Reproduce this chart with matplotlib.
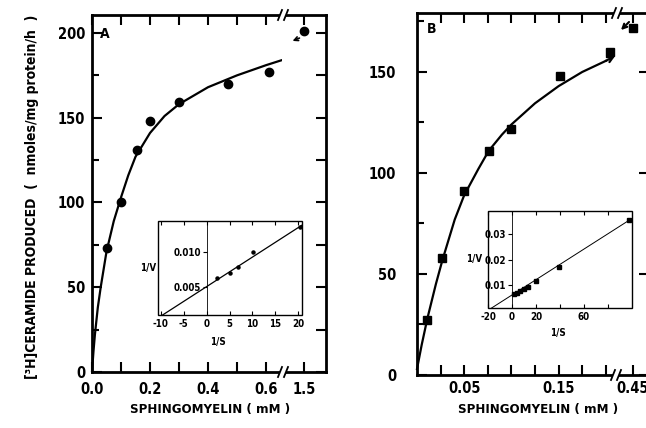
import matplotlib
matplotlib.use('Agg')
import matplotlib.pyplot as plt
from matplotlib.patches import Rectangle, FancyArrowPatch
from matplotlib.lines import Line2D

plt.rcParams['font.family'] = ['DejaVu Sans']
plt.rcParams['font.weight'] = 'bold'
plt.rcParams['font.stretch'] = 'condensed'

# ---------------- data ----------------
# Panel A (circles)
a_x = [0.05, 0.10, 0.155, 0.20, 0.30, 0.47, 0.61]
a_y = [73, 100, 131, 148, 159, 170, 177]
a_far_x = [1.5]
a_far_y = [201]
a_curve_x = [0, 0.005, 0.01, 0.02, 0.03, 0.05, 0.075, 0.1, 0.125, 0.15, 0.2, 0.25, 0.3, 0.4, 0.5, 0.6, 0.655]
a_curve_y = [0, 12, 22, 38, 50, 71, 89, 103, 116, 127, 141, 151, 158, 168, 175, 181, 184]

# Panel B (squares)
b_x = [0.011, 0.027, 0.05, 0.076, 0.10, 0.152, 0.204]
b_y = [27, 58, 91, 111, 122, 148, 160]
b_far_x = [0.45]
b_far_y = [172]
b_curve_x = [0, 0.005, 0.011, 0.02, 0.027, 0.04, 0.05, 0.065, 0.076, 0.09, 0.1, 0.125, 0.15, 0.175, 0.2, 0.21]
b_curve_y = [3, 15, 28, 45, 57, 77, 89, 102, 111, 119, 124, 134.5, 143, 150, 155.5, 158]

# Inset A (Lineweaver-Burk)
ia_x = [2.2, 5.0, 6.8, 10.2, 20.4]
ia_y = [0.0062, 0.0070, 0.0079, 0.0100, 0.0136]
ia_line_x = [-9.6, 20.8]
ia_line_y = [0.0009, 0.0139]

# Inset B
ib_x = [1.9, 4.5, 6.8, 9.8, 13.3, 20.0, 39.2, 97.9]
ib_y = [0.0064, 0.0068, 0.0075, 0.0083, 0.0092, 0.0115, 0.0170, 0.0356]
ib_line_x = [-17, 99.5]
ib_line_y = [0.0008, 0.0362]

# tick labels
a_xtick_pos = [0.0, 0.1, 0.2, 0.3, 0.4, 0.5, 0.6]
a_xtick_lab = ['0.0', '', '0.2', '', '0.4', '', '0.6']
a_ytick_pos = [0, 50, 100, 150, 200]
a_ytick_lab = ['0', '50', '100', '150', '200']
a_far_lab = ['1.5']
b_xtick_pos = [0.025, 0.05, 0.075, 0.1, 0.125, 0.15, 0.175, 0.2]
b_xtick_lab = ['', '0.05', '', '', '', '0.15', '', '']
b_ytick_pos = [0, 50, 100, 150]
b_ytick_lab = ['0', '50', '100', '150']
b_far_lab = ['0.45']
ia_xtick_pos = [-10, -5, 0, 5, 10, 15, 20]
ia_xtick_lab = ['-10', '-5', '0', '5', '10', '15', '20']
ia_ytick_pos = [0.005, 0.010]
ia_ytick_lab = ['0.005', '0.010']
ib_xtick_pos = [-20, 0, 20, 40, 60, 80]
ib_xtick_lab = ['-20', '0', '20', '', '60', '']
ib_ytick_pos = [0.01, 0.02, 0.03]
ib_ytick_lab = ['0.01', '0.02', '0.03']

# ---------------- figure ----------------
W, H = 646, 428
fig = plt.figure(figsize=(W / 100, H / 100), dpi=100)


def axpx(l, r, t, b):
    return fig.add_axes([l / W, 1 - b / H, (r - l) / W, (b - t) / H])


def px(x, y):
    return (x / W, 1 - y / H)


SPW = 2.0
TFS = 10.5
IFS = 7


def style_main(ax):
    for s in ax.spines.values():
        s.set_linewidth(SPW)
    ax.tick_params(which='both', direction='in', width=1.5, labelsize=TFS)
    ax.tick_params(which='major', length=7)
    ax.tick_params(which='minor', length=5)


# ---- Panel A ----
axA = axpx(92, 282, 15, 372)
axA2 = axpx(282, 326, 15, 372)
for ax in (axA, axA2):
    style_main(ax)
    ax.set_ylim(0, 210.6)
axA.set_xlim(0, 0.655)
axA2.set_xlim(1.4, 1.6)
axA.spines['right'].set_visible(False)
axA2.spines['left'].set_visible(False)
axA.set_xticks(a_xtick_pos, a_xtick_lab)
axA.set_yticks(a_ytick_pos, a_ytick_lab)
axA.set_yticks([25, 75, 125, 175], minor=True)
axA.tick_params(top=True, right=False, which='both', pad=5)
axA.tick_params(axis='x', pad=7)
axA2.set_xticks(a_far_x, a_far_lab)
axA2.set_yticks([0, 25, 50, 75, 100, 125, 150, 175, 200])
axA2.tick_params(left=False, labelleft=False, right=True, top=True, pad=7)

axA.plot(a_curve_x, a_curve_y, color='black', lw=1.6, solid_capstyle='round', clip_on=False)
axA.plot(a_x, a_y, 'o', color='black', ms=6)
axA2.plot(a_far_x, a_far_y, 'o', color='black', ms=6, clip_on=False)
axA.text(0.04, 0.965, 'A', transform=axA.transAxes, fontsize=10, ha='left', va='top')

# ---- Panel B ----
axB = axpx(417, 616, 13, 375)
axB2 = axpx(616, 649, 13, 375)
for ax in (axB, axB2):
    style_main(ax)
    ax.set_ylim(0, 179.2)
axB.set_xlim(0, 0.2108)
axB2.set_xlim(0.44, 0.46)
axB.spines['right'].set_visible(False)
axB2.spines['left'].set_visible(False)
axB.set_xticks(b_xtick_pos, b_xtick_lab)
axB.set_yticks(b_ytick_pos, b_ytick_lab)
axB.set_yticks([25, 75, 125, 175], minor=True)
axB.tick_params(top=True, right=False, which='both')
axB.tick_params(axis='y', pad=15)
axB.tick_params(axis='x', pad=4)
axB2.set_xticks(b_far_x, b_far_lab)
axB2.set_yticks([0, 50, 100, 150])
axB2.tick_params(left=False, labelleft=False, right=True, top=True, pad=4)

axB.plot(b_curve_x[:-1], b_curve_y[:-1], color='black', lw=1.6, clip_on=False)
axB.annotate('', xy=(b_curve_x[-1], b_curve_y[-1]), xytext=(b_curve_x[-2], b_curve_y[-2]),
             arrowprops=dict(arrowstyle='->', lw=1.6, color='black', shrinkA=0, shrinkB=0,
                             mutation_scale=10), annotation_clip=False)
axB.plot(b_x, b_y, 's', color='black', ms=6)
axB2.plot(b_far_x, b_far_y, 's', color='black', ms=6, clip_on=False)
axB.text(0.05, 0.975, 'B', transform=axB.transAxes, fontsize=10, ha='left', va='top')


# ---- axis break marks and arrows (decoration, figure pixels) ----
def brk(xp, yp):
    fig.add_artist(Rectangle(px(xp - 3, yp + 2), 6 / W, 4 / H, transform=fig.transFigure,
                             facecolor='white', edgecolor='none', zorder=10))
    for dx in (-3, 3):
        fig.add_artist(Line2D([(xp + dx - 2) / W, (xp + dx + 2) / W],
                              [1 - (yp + 5) / H, 1 - (yp - 5) / H],
                              transform=fig.transFigure, color='black', lw=1.3, zorder=11))


brk(283, 372)
brk(283, 15)
brk(616, 375)
brk(617, 13)

fig.add_artist(FancyArrowPatch(px(302, 37), px(290, 42), transform=fig.transFigure,
                               arrowstyle='->', mutation_scale=7, lw=1.2, color='black'))
fig.add_artist(FancyArrowPatch(px(631, 20), px(619, 32), transform=fig.transFigure,
                               arrowstyle='->', mutation_scale=8, lw=1.5, color='black'))

# ---- Inset A ----
iA = axpx(158, 302, 221, 315)
iA.set_xlim(-10.6, 20.8)
iA.set_ylim(0.0009, 0.0145)
for s in iA.spines.values():
    s.set_visible(False)
iA.add_patch(Rectangle((0, 0), 1, 1, transform=iA.transAxes, fill=False, lw=1.0, clip_on=False))
iA.spines['left'].set_visible(True)
iA.spines['left'].set_position(('data', 0))
iA.spines['left'].set_linewidth(0.6)
iA.set_xticks(ia_xtick_pos, ia_xtick_lab)
iA.set_yticks(ia_ytick_pos, ia_ytick_lab)
iA.tick_params(axis='x', direction='in', length=3, labelsize=IFS, pad=3, top=True)
iA.tick_params(axis='y', direction='out', length=3, labelsize=IFS, pad=1)
iA.plot(ia_line_x, ia_line_y, color='black', lw=0.9)
iA.plot(ia_x, ia_y, 'o', color='black', ms=2.2)
fig.text(*px(148, 268), '1/V', fontsize=IFS, ha='center', va='center')
fig.text(*px(218, 342), '1/S', fontsize=IFS, ha='center', va='center')

# ---- Inset B ----
iB = axpx(488, 632, 211, 308)
iB.set_xlim(-20, 100)
iB.set_ylim(0.0008, 0.0393)
for s in iB.spines.values():
    s.set_visible(False)
iB.add_patch(Rectangle((0, 0), 1, 1, transform=iB.transAxes, fill=False, lw=1.0, clip_on=False))
iB.spines['left'].set_visible(True)
iB.spines['left'].set_position(('data', 0))
iB.spines['left'].set_linewidth(0.6)
iB.set_xticks(ib_xtick_pos, ib_xtick_lab)
iB.set_yticks(ib_ytick_pos, ib_ytick_lab)
iB.tick_params(axis='x', direction='in', length=3, labelsize=IFS, pad=3, top=True)
iB.tick_params(axis='y', direction='out', length=3, labelsize=IFS, pad=1)
iB.plot(ib_line_x, ib_line_y, color='black', lw=0.7)
iB.plot(ib_x, ib_y, 's', color='black', ms=2.8)
fig.text(*px(474, 259), '1/V', fontsize=IFS, ha='center', va='center')
fig.text(*px(558, 333), '1/S', fontsize=IFS, ha='center', va='center')

# ---- axis titles ----
fig.text(*px(32, 197), '[³H]CERAMIDE PRODUCED  (  nmoles/mg protein/h  )', rotation=90,
         ha='center', va='center', fontsize=10)
fig.text(*px(210, 410), 'SPHINGOMYELIN ( mM )', ha='center', va='center', fontsize=9.5)
fig.text(*px(538, 410), 'SPHINGOMYELIN ( mM )', ha='center', va='center', fontsize=9.5)

fig.savefig('out.png', dpi=100)
